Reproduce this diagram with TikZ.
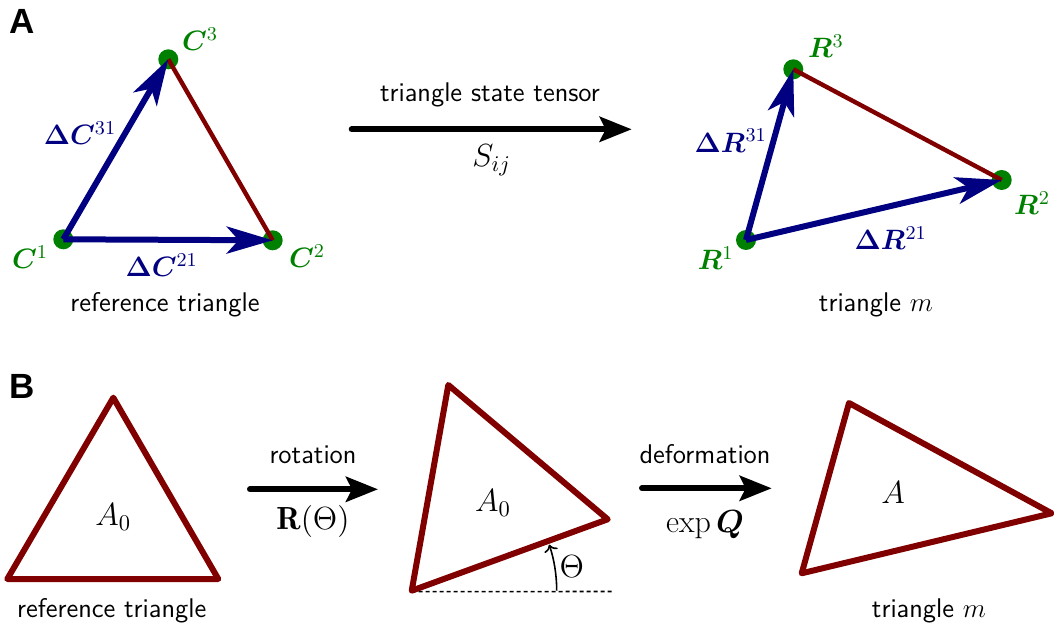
\documentclass[tikz,border=0pt]{standalone}
\usepackage{fix-cm}
\usepackage{amsmath}
\usepackage{bm}
\usepackage{fontspec}
\newfontfamily\panelfont{Liberation Sans}
\usetikzlibrary{
  arrows.meta,
  positioning
}
\definecolor{vecblue}{RGB}{0,0,128}
\definecolor{edgered}{RGB}{128,0,0}
\definecolor{dotgreen}{RGB}{0,128,0}

\begin{document}
\begin{tikzpicture}[x=0.5pt,y=-0.5pt,
    font=\fontsize{14}{16}\selectfont,
    panel/.style={inner sep=0pt,font=\panelfont\bfseries\fontsize{17.5}{20}\selectfont},
    txt/.style={inner sep=0pt,font=\sffamily\fontsize{13.5}{16}\selectfont},
    mth/.style={inner sep=0pt,font=\fontsize{16}{19}\selectfont},
    vlab/.style={inner sep=0pt,dotgreen},
    dlab/.style={inner sep=0pt,vecblue},
    vec/.style={vecblue,line width=3pt,-{Stealth[length=23pt,width=13.5pt,inset=6pt]}},
    edge/.style={edgered,line width=2.2pt},
    tri/.style={edgered,line width=3pt,line join=round},
    map/.style={black,line width=3pt,line cap=round,-{Stealth[length=16pt,width=12.5pt,inset=3pt]}}]
  \useasboundingbox (0,0) rectangle (1054,630);

  % A
  \node[panel] (labA) at (21.7,21.7) {A};

  % reference triangle
  \coordinate (C1) at (63.3,239.3);
  \coordinate (C2) at (272.7,240.3);
  \coordinate (C3) at (168.3,59.3);
  \foreach \v in {C1,C2,C3}
    \fill[dotgreen] (\v) circle[radius=5pt];
  \draw[edge] (C3) -- (C2);
  \draw[vec] (C1) -- (C2);
  \draw[vec] (C1) -- (C3);

  \node[vlab] (labC1) at (30,257) {$\bm{C}^1$};
  \node[vlab] (labC2) at (307,256) {$\bm{C}^2$};
  \node[vlab] (labC3) at (200,39) {$\bm{C}^3$};
  \node[dlab] (labC31) at (80,133) {$\bm{\Delta C}^{31}$};
  \node[dlab] (labC21) at (161.7,265) {$\bm{\Delta C}^{21}$};
  \node[txt] (refA) at (165,305) {reference triangle};

  % state tensor
  \coordinate (mapAs) at (351.7,129.3);
  \coordinate (mapAe) at (631.7,129.3);
  \draw[map] (mapAs) -- (mapAe);
  \node[txt] (labS) at (490,95) {triangle state tensor};
  \node[mth] (labSij) at (491.7,160) {$S_{ij}$};

  % triangle m
  \coordinate (R1) at (746,240);
  \coordinate (R2) at (1001.7,180);
  \coordinate (R3) at (793.3,69.3);
  \foreach \v in {R1,R2,R3}
    \fill[dotgreen] (\v) circle[radius=5pt];
  \draw[edge] (R3) -- (R2);
  \draw[vec] (R1) -- (R2);
  \draw[vec] (R1) -- (R3);

  \node[vlab] (labR1) at (715.7,258.3) {$\bm{R}^1$};
  \node[vlab] (labR2) at (1032,203) {$\bm{R}^2$};
  \node[vlab] (labR3) at (826,46) {$\bm{R}^3$};
  \node[dlab] (labR31) at (730.7,140.7) {$\bm{\Delta R}^{31}$};
  \node[dlab] (labR21) at (890.7,238.3) {$\bm{\Delta R}^{21}$};
  \node[txt] (mA) at (876,305) {triangle $m$};

  % B
  \node[panel] (labB) at (21.7,386.7) {B};

  % reference triangle
  \coordinate (P1) at (7.3,579);
  \coordinate (P2) at (218.3,579);
  \coordinate (P3) at (113.3,397.7);
  \draw[tri] (P1) -- (P2) -- (P3) -- cycle;
  \node[mth] (labP) at (113.3,516.7) {$A_0$};
  \node[txt] (refB) at (111.7,611) {reference triangle};

  % rotation
  \coordinate (rots) at (250,489.3);
  \coordinate (rote) at (378,489.3);
  \draw[map] (rots) -- (rote);
  \node[txt] (labrot) at (313,455) {rotation};
  \node[mth] (labRT) at (313,521.7) {$\mathbf{R}(\Theta)$};

  % rotated triangle
  \coordinate (Q1) at (411.7,590.7);
  \coordinate (Q2) at (607.7,519.3);
  \coordinate (Q3) at (448.3,385);
  \coordinate (base) at (613,591.5);
  \draw[line width=0.8pt,dash pattern=on 2pt off 1.5pt] (Q1) ++(0,1) -- (base);
  \draw[tri] (Q1) -- (Q2) -- (Q3) -- cycle;
  \draw[line width=0.8pt,->] (Q1) ++(145,0) arc[start angle=0,end angle=18.5,radius=72.5pt];
  \node[mth] (labQ) at (493,503) {$A_0$};
  \node[mth] (labTh) at (571.7,566.7) {$\Theta$};

  % deformation
  \coordinate (defs) at (642,488.3);
  \coordinate (defe) at (771.7,488.3);
  \draw[map] (defs) -- (defe);
  \node[txt] (labdef) at (705,454) {deformation};
  \node[mth] (labexp) at (705,525) {$\exp\bm{Q}$};

  % deformed triangle
  \coordinate (D1) at (801.7,573.3);
  \coordinate (D2) at (1051.7,513.3);
  \coordinate (D3) at (849,403);
  \draw[tri] (D1) -- (D2) -- (D3) -- cycle;
  \node[mth] (labD) at (893,493) {$A$};
  \node[txt] (mB) at (929,611) {triangle $m$};
\end{tikzpicture}
\end{document}
